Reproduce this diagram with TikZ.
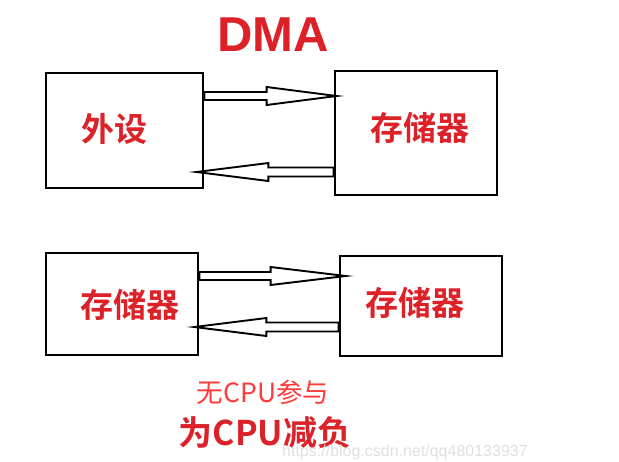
\documentclass[tikz,border=0pt]{standalone}
\usepackage{fontspec}
\setmainfont{Noto Sans CJK SC}[BoldFont={Noto Sans CJK SC Bold}]
\newfontfamily\latinbold{Liberation Sans}[BoldFont={Liberation Sans Bold}]
\usetikzlibrary{calc}
\definecolor{redbold}{HTML}{DC2128}
\definecolor{redlight}{HTML}{FF3A3A}
\tikzset{
  box/.style={draw=black, line width=2.8pt, minimum width=#1, inner sep=0pt},
  boxtxt/.style={text=redbold, font=\bfseries\fontsize{33}{33}\selectfont, inner sep=0pt},
  hollow/.style={draw=black, line width=1.9pt, fill=white, line join=miter},
}
% hollow arrow: #1 start, #2 tip, #3 head length
\newcommand\hollowR[3]{%
  \draw[hollow] ($(#1)+(0,-4)$) -- ($(#2)+(-#3,-4)$) -- ($(#2)+(-#3,-9)$) -- (#2)
    -- ($(#2)+(-#3,9)$) -- ($(#2)+(-#3,4)$) -- ($(#1)+(0,4)$) -- cycle;}
\newcommand\hollowL[3]{%
  \draw[hollow] ($(#1)+(0,-4.5)$) -- ($(#2)+(#3,-4.5)$) -- ($(#2)+(#3,-9)$) -- (#2)
    -- ($(#2)+(#3,9)$) -- ($(#2)+(#3,4.5)$) -- ($(#1)+(0,4.5)$) -- cycle;}
\begin{document}
\begin{tikzpicture}[x=1pt,y=-1pt]
\useasboundingbox (0,0) rectangle (619,461);
\fill[white] (0,0) rectangle (619,461);

\node[text=redbold, font=\latinbold\bfseries\fontsize{49}{49}\selectfont, inner sep=0pt] (dma) at (273,35) {DMA};

\node[box=157pt, minimum height=115pt] (b1) at (124.5,130.5) {};
\node[box=162pt, minimum height=124pt] (b2) at (416,133) {};
\node[box=152pt, minimum height=102pt] (b3) at (122,304) {};
\node[box=162pt, minimum height=100pt] (b4) at (421,306) {};

\node[boxtxt] (t1) at (114,129) {外设};
\node[boxtxt] (t2) at (420,128) {存储器};
\node[boxtxt] (t3) at (130,305) {存储器};
\node[boxtxt] (t4) at (415,303) {存储器};

\coordinate (a1s) at (b1.east |- 0,96);
\coordinate (a1t) at ($(b2.west |- 0,96)+(3,0)$);
\coordinate (a2s) at (b2.west |- 0,172);
\coordinate (a2t) at ($(b1.east |- 0,172)+(-8,0)$);
\coordinate (a3s) at (b3.east |- 0,276);
\coordinate (a3t) at ($(b4.west |- 0,276)+(7,0)$);
\coordinate (a4s) at (b4.west |- 0,327);
\coordinate (a4t) at ($(b3.east |- 0,327)+(-5,0)$);

\hollowR{a1s}{a1t}{70}
\hollowL{a2s}{a2t}{72}
\hollowR{a3s}{a3t}{75}
\hollowL{a4s}{a4t}{72}

\node[text=redlight, font=\fontsize{26.5}{26.5}\selectfont, inner sep=0pt] (n1) at (263,392) {无CPU参与};
\node[text=redbold, font=\bfseries\fontsize{34}{34}\selectfont, inner sep=0pt] (n2) at (265,433) {为CPU减负};
\node[text=black!12, font=\latinbold\fontsize{16}{16}\selectfont, inner sep=0pt, anchor=west] (wm) at (282,452) {https://blog.csdn.net/qq480133937};
\end{tikzpicture}
\end{document}
